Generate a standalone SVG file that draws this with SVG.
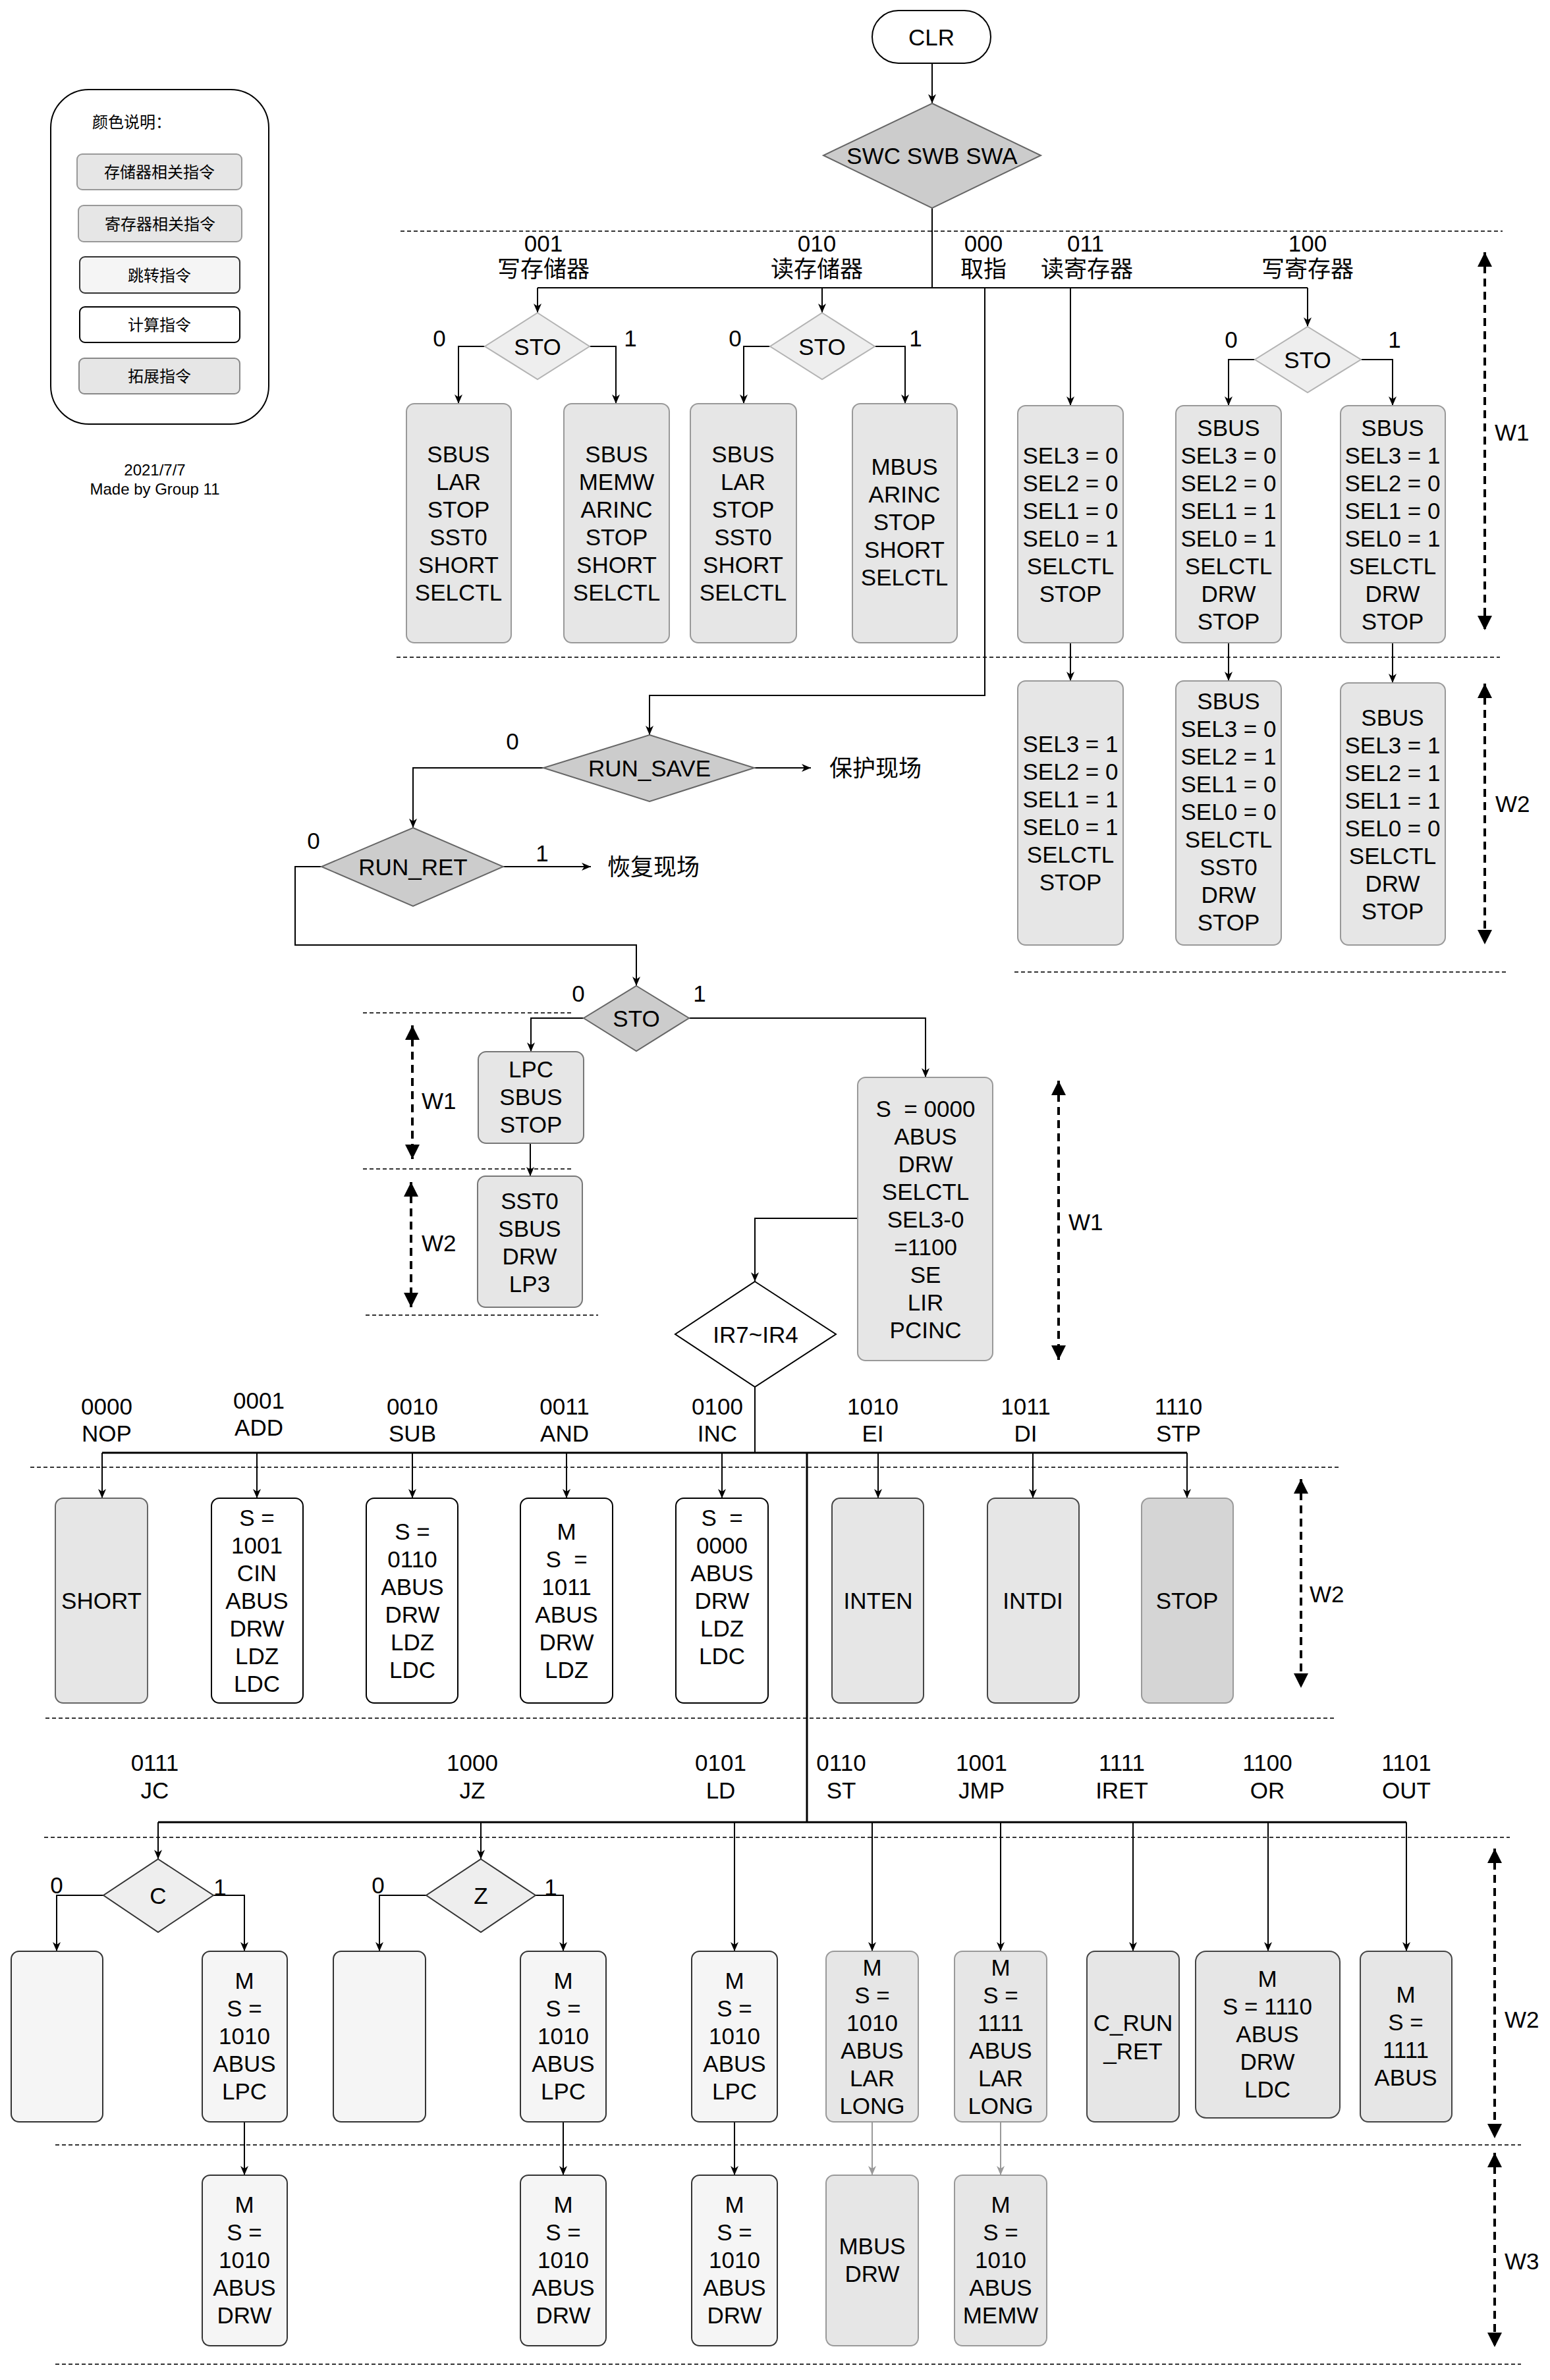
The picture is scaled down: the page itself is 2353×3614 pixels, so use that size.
<svg xmlns="http://www.w3.org/2000/svg" width="2353" height="3614" viewBox="0 0 2353 3614">
<defs>
<style>
text{font-family:"Liberation Sans","Noto Sans CJK SC",sans-serif;fill:#000;}
.t{font-size:35px;text-anchor:middle;dominant-baseline:central;}
.tl{font-size:35px;text-anchor:start;dominant-baseline:central;}
.lg{font-size:24px;text-anchor:middle;dominant-baseline:central;}
.mem{fill:#e6e6e6;stroke:#999;stroke-width:2;}
.reg{fill:#e6e6e6;stroke:#999;stroke-width:2;}
.jmp{fill:#f5f5f5;stroke:#333;stroke-width:2;}
.cmp{fill:#fff;stroke:#000;stroke-width:2;}
.ext{fill:#e6e6e6;stroke:#444;stroke-width:2;}
.stp{fill:#d5d5d5;stroke:#999;stroke-width:2;}
.dk{fill:#cccccc;stroke:#666;stroke-width:2;}
.lt{fill:#eeeeee;stroke:#b3b3b3;stroke-width:2;}
.cz{fill:#eeeeee;stroke:#333;stroke-width:2;}
.c{fill:none;stroke:#000;stroke-width:2;marker-end:url(#a);}
.cg{fill:none;stroke:#999;stroke-width:2;marker-end:url(#ag);}
.ln{fill:none;stroke:#000;stroke-width:2;}
.bus{fill:none;stroke:#000;stroke-width:3;}
.sep{fill:none;stroke:#333;stroke-width:2;stroke-dasharray:6 4;}
.w{fill:none;stroke:#000;stroke-width:4;stroke-dasharray:12 8;marker-start:url(#ws);marker-end:url(#we);}
</style>
<marker id="a" markerUnits="userSpaceOnUse" viewBox="0 0 14 12" refX="14" refY="6" markerWidth="14" markerHeight="12" orient="auto"><path d="M0,0 L14,6 L0,12 L4,6 Z" fill="#000"/></marker>
<marker id="ag" markerUnits="userSpaceOnUse" viewBox="0 0 14 12" refX="14" refY="6" markerWidth="14" markerHeight="12" orient="auto"><path d="M0,0 L14,6 L0,12 L4,6 Z" fill="#999"/></marker>
<marker id="we" markerUnits="userSpaceOnUse" viewBox="0 0 22 22" refX="22" refY="11" markerWidth="22" markerHeight="22" orient="auto"><path d="M0,0 L22,11 L0,22 Z" fill="#000"/></marker>
<marker id="ws" markerUnits="userSpaceOnUse" viewBox="0 0 22 22" refX="0" refY="11" markerWidth="22" markerHeight="22" orient="auto"><path d="M22,0 L0,11 L22,22 Z" fill="#000"/></marker>
</defs>
<rect width="2353" height="3614" fill="#fff"/>

<g id="separators">
<path class="sep" d="M608,351 H2281"/>
<path class="sep" d="M602,998 H2277"/>
<path class="sep" d="M1540,1476 H2290"/>
<path class="sep" d="M551,1538 H868"/>
<path class="sep" d="M551,1775 H868"/>
<path class="sep" d="M555,1997 H908"/>
<path class="sep" d="M46,2228 H2033"/>
<path class="sep" d="M69,2609 H2027"/>
<path class="sep" d="M67,2790 H2292"/>
<path class="sep" d="M84,3257 H2309"/>
<path class="sep" d="M84,3590 H2309"/>
</g>

<g id="legend">
<rect x="77" y="136" width="331" height="508" rx="58" fill="#fff" stroke="#000" stroke-width="2"/>
<text class="lg" x="140" y="185" style="text-anchor:start">颜色说明：</text>
<rect class="mem" x="117" y="234" width="250" height="54" rx="8"/><text class="lg" x="242" y="261">存储器相关指令</text>
<rect class="reg" x="119" y="312" width="248" height="55" rx="8"/><text class="lg" x="243" y="340">寄存器相关指令</text>
<rect class="jmp" x="121" y="390" width="243" height="55" rx="8"/><text class="lg" x="242" y="418">跳转指令</text>
<rect class="cmp" x="121" y="466" width="243" height="54" rx="8"/><text class="lg" x="242" y="493">计算指令</text>
<rect x="120" y="544" width="244" height="54" rx="8" fill="#e6e6e6" stroke="#888" stroke-width="2"/><text class="lg" x="242" y="571">拓展指令</text>
<text class="lg" x="235" y="713">2021/7/7</text>
<text class="lg" x="235" y="742">Made by Group 11</text>
</g>

<g id="connectors">
<path class="c" d="M1415,96 V157"/>
<path class="ln" d="M1415,316 V437"/>
<path class="ln" d="M816,437 H1985"/>
<path class="c" d="M816,437 V475"/>
<path class="c" d="M736,526 H696 V613"/>
<path class="c" d="M895,526 H935 V613"/>
<path class="c" d="M1248,437 V475"/>
<path class="c" d="M1169,526 H1129 V613"/>
<path class="c" d="M1328,526 H1374 V613"/>
<path class="c" d="M1625,437 V616"/>
<path class="c" d="M1985,437 V496"/>
<path class="c" d="M1905,546 H1865 V616"/>
<path class="c" d="M2066,546 H2114 V616"/>
<path class="c" d="M1625,976 V1034"/>
<path class="c" d="M1865,976 V1034"/>
<path class="c" d="M2114,976 V1037"/>
<path class="c" d="M1495,437 V1056 H986 V1116"/>
<path class="c" d="M1145,1166 H1231"/>
<path class="c" d="M825,1166 H627 V1257"/>
<path class="c" d="M764,1316 H897"/>
<path class="c" d="M488,1316 H448 V1435 H966 V1497"/>
<path class="c" d="M886,1546 H806 V1597"/>
<path class="c" d="M1046,1546 H1405 V1636"/>
<path class="c" d="M805,1736 V1786"/>
<path class="c" d="M1302,1850 H1146 V1946"/>
<path class="ln" d="M1146,2106 V2206"/>
<path class="bus" d="M155,2206 H1802"/>
<path class="bus" d="M1225,2206 V2767"/>
<path class="bus" d="M240,2767 H2135"/>
<path class="c" d="M155,2206 V2275"/>
<path class="c" d="M390,2206 V2275"/>
<path class="c" d="M626,2206 V2275"/>
<path class="c" d="M860,2206 V2275"/>
<path class="c" d="M1096,2206 V2275"/>
<path class="c" d="M1333,2206 V2275"/>
<path class="c" d="M1568,2206 V2275"/>
<path class="c" d="M1802,2206 V2275"/>
<path class="c" d="M240,2767 V2823"/>
<path class="c" d="M730,2767 V2823"/>
<path class="c" d="M1115,2767 V2963"/>
<path class="c" d="M1324,2767 V2963"/>
<path class="c" d="M1519,2767 V2963"/>
<path class="c" d="M1720,2767 V2963"/>
<path class="c" d="M1925,2767 V2963"/>
<path class="c" d="M2135,2767 V2963"/>
<path class="c" d="M157,2878 H86 V2963"/>
<path class="c" d="M324,2878 H371 V2963"/>
<path class="c" d="M647,2878 H576 V2963"/>
<path class="c" d="M813,2878 H855 V2963"/>
<path class="c" d="M371,3222 V3303"/>
<path class="c" d="M855,3222 V3303"/>
<path class="c" d="M1115,3222 V3303"/>
<path class="cg" d="M1324,3222 V3303"/>
<path class="cg" d="M1519,3222 V3303"/>
</g>

<g id="cycle-markers">
<path class="w" d="M2254,383 V957"/><text class="tl" x="2269" y="656">W1</text>
<path class="w" d="M2254,1038 V1434"/><text class="tl" x="2270" y="1220">W2</text>
<path class="w" d="M626,1557 V1760"/><text class="tl" x="640" y="1671">W1</text>
<path class="w" d="M624,1795 V1985"/><text class="tl" x="640" y="1887">W2</text>
<path class="w" d="M1607,1641 V2065"/><text class="tl" x="1622" y="1855">W1</text>
<path class="w" d="M1975,2246 V2563"/><text class="tl" x="1988" y="2420">W2</text>
<path class="w" d="M2269,2807 V3247"/><text class="tl" x="2284" y="3066">W2</text>
<path class="w" d="M2269,3269 V3564"/><text class="tl" x="2284" y="3433">W3</text>
</g>

<g id="labels">
<text class="t" x="825" y="369">001</text><text class="t" x="825" y="408">写存储器</text>
<text class="t" x="1240" y="369">010</text><text class="t" x="1240" y="408">读存储器</text>
<text class="t" x="1493" y="369">000</text><text class="t" x="1493" y="408">取指</text>
<text class="t" x="1648" y="369">011</text><text class="t" x="1650" y="408">读寄存器</text>
<text class="t" x="1985" y="369">100</text><text class="t" x="1985" y="408">写寄存器</text>
<text class="t" x="667" y="513">0</text><text class="t" x="957" y="513">1</text>
<text class="t" x="1116" y="513">0</text><text class="t" x="1390" y="513">1</text>
<text class="t" x="1869" y="515">0</text><text class="t" x="2117" y="515">1</text>
<text class="t" x="778" y="1125">0</text>
<text class="tl" x="1259" y="1166">保护现场</text>
<text class="t" x="476" y="1276">0</text><text class="t" x="823" y="1295">1</text>
<text class="tl" x="922" y="1316">恢复现场</text>
<text class="t" x="878" y="1508">0</text><text class="t" x="1062" y="1508">1</text>
<text class="t" x="162" y="2135">0000</text><text class="t" x="162" y="2176">NOP</text>
<text class="t" x="393" y="2126">0001</text><text class="t" x="393" y="2167">ADD</text>
<text class="t" x="626" y="2135">0010</text><text class="t" x="626" y="2176">SUB</text>
<text class="t" x="857" y="2135">0011</text><text class="t" x="857" y="2176">AND</text>
<text class="t" x="1089" y="2135">0100</text><text class="t" x="1089" y="2176">INC</text>
<text class="t" x="1325" y="2135">1010</text><text class="t" x="1325" y="2176">EI</text>
<text class="t" x="1557" y="2135">1011</text><text class="t" x="1557" y="2176">DI</text>
<text class="t" x="1789" y="2135">1110</text><text class="t" x="1789" y="2176">STP</text>
<text class="t" x="235" y="2676">0111</text><text class="t" x="235" y="2718">JC</text>
<text class="t" x="717" y="2676">1000</text><text class="t" x="717" y="2718">JZ</text>
<text class="t" x="1094" y="2676">0101</text><text class="t" x="1094" y="2718">LD</text>
<text class="t" x="1277" y="2676">0110</text><text class="t" x="1277" y="2718">ST</text>
<text class="t" x="1490" y="2676">1001</text><text class="t" x="1490" y="2718">JMP</text>
<text class="t" x="1703" y="2676">1111</text><text class="t" x="1703" y="2718">IRET</text>
<text class="t" x="1924" y="2676">1100</text><text class="t" x="1924" y="2718">OR</text>
<text class="t" x="2135" y="2676">1101</text><text class="t" x="2135" y="2718">OUT</text>
<text class="t" x="86" y="2862">0</text><text class="t" x="334" y="2865">1</text>
<text class="t" x="574" y="2862">0</text><text class="t" x="836" y="2865">1</text>
</g>

<g id="n-clr"><rect x="1324" y="16" width="180" height="80" rx="40" fill="#fff" stroke="#000" stroke-width="2"/><text class="t" x="1414" y="56">CLR</text></g>
<g id="n-sw"><polygon class="dk" points="1415,157 1580,236 1415,316 1250,236"/><text class="t" x="1415" y="236">SWC SWB SWA</text></g>

<g id="n-sto1"><polygon class="lt" points="816,475 895,526 816,576 736,526"/><text class="t" x="816" y="526">STO</text></g>
<g id="n-sto2"><polygon class="lt" points="1248,475 1328,526 1248,576 1169,526"/><text class="t" x="1248" y="526">STO</text></g>
<g id="n-sto3"><polygon class="lt" points="1985,496 2066,546 1985,596 1905,546"/><text class="t" x="1985" y="546">STO</text></g>

<g id="n-b1"><rect class="mem" x="617" y="613" width="159" height="363" rx="12"/><text class="t"><tspan x="696" y="689">SBUS</tspan><tspan x="696" y="731">LAR</tspan><tspan x="696" y="773">STOP</tspan><tspan x="696" y="815">SST0</tspan><tspan x="696" y="857">SHORT</tspan><tspan x="696" y="899">SELCTL</tspan></text></g>
<g id="n-b2"><rect class="mem" x="856" y="613" width="160" height="363" rx="12"/><text class="t"><tspan x="936" y="689">SBUS</tspan><tspan x="936" y="731">MEMW</tspan><tspan x="936" y="773">ARINC</tspan><tspan x="936" y="815">STOP</tspan><tspan x="936" y="857">SHORT</tspan><tspan x="936" y="899">SELCTL</tspan></text></g>
<g id="n-b3"><rect class="mem" x="1048" y="613" width="161" height="363" rx="12"/><text class="t"><tspan x="1128" y="689">SBUS</tspan><tspan x="1128" y="731">LAR</tspan><tspan x="1128" y="773">STOP</tspan><tspan x="1128" y="815">SST0</tspan><tspan x="1128" y="857">SHORT</tspan><tspan x="1128" y="899">SELCTL</tspan></text></g>
<g id="n-b4"><rect class="mem" x="1294" y="613" width="159" height="363" rx="12"/><text class="t"><tspan x="1373" y="708">MBUS</tspan><tspan x="1373" y="750">ARINC</tspan><tspan x="1373" y="792">STOP</tspan><tspan x="1373" y="834">SHORT</tspan><tspan x="1373" y="876">SELCTL</tspan></text></g>
<g id="n-b5"><rect class="reg" x="1545" y="616" width="160" height="360" rx="12"/><text class="t"><tspan x="1625" y="691">SEL3 = 0</tspan><tspan x="1625" y="733">SEL2 = 0</tspan><tspan x="1625" y="775">SEL1 = 0</tspan><tspan x="1625" y="817">SEL0 = 1</tspan><tspan x="1625" y="859">SELCTL</tspan><tspan x="1625" y="901">STOP</tspan></text></g>
<g id="n-b6"><rect class="reg" x="1785" y="616" width="160" height="360" rx="12"/><text class="t"><tspan x="1865" y="649">SBUS</tspan><tspan x="1865" y="691">SEL3 = 0</tspan><tspan x="1865" y="733">SEL2 = 0</tspan><tspan x="1865" y="775">SEL1 = 1</tspan><tspan x="1865" y="817">SEL0 = 1</tspan><tspan x="1865" y="859">SELCTL</tspan><tspan x="1865" y="901">DRW</tspan><tspan x="1865" y="943">STOP</tspan></text></g>
<g id="n-b7"><rect class="reg" x="2035" y="616" width="159" height="360" rx="12"/><text class="t"><tspan x="2114" y="649">SBUS</tspan><tspan x="2114" y="691">SEL3 = 1</tspan><tspan x="2114" y="733">SEL2 = 0</tspan><tspan x="2114" y="775">SEL1 = 0</tspan><tspan x="2114" y="817">SEL0 = 1</tspan><tspan x="2114" y="859">SELCTL</tspan><tspan x="2114" y="901">DRW</tspan><tspan x="2114" y="943">STOP</tspan></text></g>
<g id="n-b5b"><rect class="reg" x="1545" y="1034" width="160" height="401" rx="12"/><text class="t"><tspan x="1625" y="1129">SEL3 = 1</tspan><tspan x="1625" y="1171">SEL2 = 0</tspan><tspan x="1625" y="1213">SEL1 = 1</tspan><tspan x="1625" y="1255">SEL0 = 1</tspan><tspan x="1625" y="1297">SELCTL</tspan><tspan x="1625" y="1339">STOP</tspan></text></g>
<g id="n-b6b"><rect class="reg" x="1785" y="1034" width="160" height="401" rx="12"/><text class="t"><tspan x="1865" y="1064">SBUS</tspan><tspan x="1865" y="1106">SEL3 = 0</tspan><tspan x="1865" y="1148">SEL2 = 1</tspan><tspan x="1865" y="1190">SEL1 = 0</tspan><tspan x="1865" y="1232">SEL0 = 0</tspan><tspan x="1865" y="1274">SELCTL</tspan><tspan x="1865" y="1316">SST0</tspan><tspan x="1865" y="1358">DRW</tspan><tspan x="1865" y="1400">STOP</tspan></text></g>
<g id="n-b7b"><rect class="reg" x="2035" y="1037" width="159" height="398" rx="12"/><text class="t"><tspan x="2114" y="1089">SBUS</tspan><tspan x="2114" y="1131">SEL3 = 1</tspan><tspan x="2114" y="1173">SEL2 = 1</tspan><tspan x="2114" y="1215">SEL1 = 1</tspan><tspan x="2114" y="1257">SEL0 = 0</tspan><tspan x="2114" y="1299">SELCTL</tspan><tspan x="2114" y="1341">DRW</tspan><tspan x="2114" y="1383">STOP</tspan></text></g>

<g id="n-runsave"><polygon class="dk" points="986,1116 1145,1166 986,1217 825,1166"/><text class="t" x="986" y="1166">RUN_SAVE</text></g>
<g id="n-runret"><polygon class="dk" points="627,1257 764,1316 627,1376 488,1316"/><text class="t" x="627" y="1316">RUN_RET</text></g>
<g id="n-sto4"><polygon class="dk" points="966,1497 1046,1546 966,1596 886,1546"/><text class="t" x="966" y="1546">STO</text></g>
<g id="n-lpc"><rect class="reg" x="726" y="1597" width="160" height="139" rx="12" style="stroke:#777"/><text class="t"><tspan x="806" y="1623">LPC</tspan><tspan x="806" y="1665">SBUS</tspan><tspan x="806" y="1707">STOP</tspan></text></g>
<g id="n-sst0"><rect class="reg" x="725" y="1786" width="159" height="199" rx="12" style="stroke:#777"/><text class="t"><tspan x="804" y="1823">SST0</tspan><tspan x="804" y="1865">SBUS</tspan><tspan x="804" y="1907">DRW</tspan><tspan x="804" y="1949">LP3</tspan></text></g>
<g id="n-fetch"><rect class="mem" x="1302" y="1636" width="205" height="430" rx="12"/><text class="t" xml:space="preserve"><tspan x="1405" y="1683">S  = 0000</tspan><tspan x="1405" y="1725">ABUS</tspan><tspan x="1405" y="1767">DRW</tspan><tspan x="1405" y="1809">SELCTL</tspan><tspan x="1405" y="1851">SEL3-0</tspan><tspan x="1405" y="1893">=1100</tspan><tspan x="1405" y="1935">SE</tspan><tspan x="1405" y="1977">LIR</tspan><tspan x="1405" y="2019">PCINC</tspan></text></g>
<g id="n-ir"><polygon points="1146,1946 1269,2026 1146,2106 1025,2026" fill="#fff" stroke="#000" stroke-width="2"/><text class="t" x="1147" y="2026">IR7~IR4</text></g>

<g id="n-nop"><rect x="84" y="2275" width="140" height="311" rx="12" fill="#e6e6e6" stroke="#666" stroke-width="2"/><text class="t" x="154" y="2430">SHORT</text></g>
<g id="n-add"><rect class="cmp" x="321" y="2275" width="139" height="311" rx="12"/><text class="t"><tspan x="390" y="2304">S =</tspan><tspan x="390" y="2346">1001</tspan><tspan x="390" y="2388">CIN</tspan><tspan x="390" y="2430">ABUS</tspan><tspan x="390" y="2472">DRW</tspan><tspan x="390" y="2514">LDZ</tspan><tspan x="390" y="2556">LDC</tspan></text></g>
<g id="n-sub"><rect class="cmp" x="556" y="2275" width="139" height="311" rx="12"/><text class="t"><tspan x="626" y="2325">S =</tspan><tspan x="626" y="2367">0110</tspan><tspan x="626" y="2409">ABUS</tspan><tspan x="626" y="2451">DRW</tspan><tspan x="626" y="2493">LDZ</tspan><tspan x="626" y="2535">LDC</tspan></text></g>
<g id="n-and"><rect class="cmp" x="790" y="2275" width="140" height="311" rx="12"/><text class="t" xml:space="preserve"><tspan x="860" y="2325">M</tspan><tspan x="860" y="2367">S  =</tspan><tspan x="860" y="2409">1011</tspan><tspan x="860" y="2451">ABUS</tspan><tspan x="860" y="2493">DRW</tspan><tspan x="860" y="2535">LDZ</tspan></text></g>
<g id="n-inc"><rect class="cmp" x="1026" y="2275" width="140" height="311" rx="12"/><text class="t" xml:space="preserve"><tspan x="1096" y="2304">S  =</tspan><tspan x="1096" y="2346">0000</tspan><tspan x="1096" y="2388">ABUS</tspan><tspan x="1096" y="2430">DRW</tspan><tspan x="1096" y="2472">LDZ</tspan><tspan x="1096" y="2514">LDC</tspan></text></g>
<g id="n-inten"><rect class="ext" x="1263" y="2275" width="139" height="311" rx="12"/><text class="t" x="1333" y="2430">INTEN</text></g>
<g id="n-intdi"><rect class="ext" x="1499" y="2275" width="139" height="311" rx="12"/><text class="t" x="1568" y="2430">INTDI</text></g>
<g id="n-stop"><rect class="stp" x="1733" y="2275" width="139" height="311" rx="12"/><text class="t" x="1802" y="2430">STOP</text></g>

<g id="n-c"><polygon class="cz" points="240,2823 324,2878 240,2934 157,2878"/><text class="t" x="240" y="2878">C</text></g>
<g id="n-z"><polygon class="cz" points="730,2823 813,2878 730,2934 647,2878"/><text class="t" x="730" y="2878">Z</text></g>
<g id="n-jc0"><rect class="jmp" x="17" y="2963" width="139" height="259" rx="12"/></g>
<g id="n-jc1"><rect class="jmp" x="307" y="2963" width="129" height="259" rx="12"/><text class="t"><tspan x="371" y="3007">M</tspan><tspan x="371" y="3049">S =</tspan><tspan x="371" y="3091">1010</tspan><tspan x="371" y="3133">ABUS</tspan><tspan x="371" y="3175">LPC</tspan></text></g>
<g id="n-jz0"><rect class="jmp" x="506" y="2963" width="140" height="259" rx="12"/></g>
<g id="n-jz1"><rect class="jmp" x="790" y="2963" width="130" height="259" rx="12"/><text class="t"><tspan x="855" y="3007">M</tspan><tspan x="855" y="3049">S =</tspan><tspan x="855" y="3091">1010</tspan><tspan x="855" y="3133">ABUS</tspan><tspan x="855" y="3175">LPC</tspan></text></g>
<g id="n-ld"><rect class="jmp" x="1050" y="2963" width="130" height="259" rx="12"/><text class="t"><tspan x="1115" y="3007">M</tspan><tspan x="1115" y="3049">S =</tspan><tspan x="1115" y="3091">1010</tspan><tspan x="1115" y="3133">ABUS</tspan><tspan x="1115" y="3175">LPC</tspan></text></g>
<g id="n-st"><rect class="mem" x="1254" y="2963" width="140" height="259" rx="12"/><text class="t"><tspan x="1324" y="2987">M</tspan><tspan x="1324" y="3029">S =</tspan><tspan x="1324" y="3071">1010</tspan><tspan x="1324" y="3113">ABUS</tspan><tspan x="1324" y="3155">LAR</tspan><tspan x="1324" y="3197">LONG</tspan></text></g>
<g id="n-jmp"><rect class="mem" x="1449" y="2963" width="140" height="259" rx="12"/><text class="t"><tspan x="1519" y="2987">M</tspan><tspan x="1519" y="3029">S =</tspan><tspan x="1519" y="3071">1111</tspan><tspan x="1519" y="3113">ABUS</tspan><tspan x="1519" y="3155">LAR</tspan><tspan x="1519" y="3197">LONG</tspan></text></g>
<g id="n-iret"><rect class="ext" x="1650" y="2963" width="140" height="259" rx="12"/><text class="t"><tspan x="1720" y="3071">C_RUN</tspan><tspan x="1720" y="3114">_RET</tspan></text></g>
<g id="n-or"><rect class="ext" x="1815" y="2963" width="219" height="253" rx="16"/><text class="t"><tspan x="1924" y="3004">M</tspan><tspan x="1924" y="3046">S = 1110</tspan><tspan x="1924" y="3088">ABUS</tspan><tspan x="1924" y="3130">DRW</tspan><tspan x="1924" y="3172">LDC</tspan></text></g>
<g id="n-out"><rect class="ext" x="2065" y="2963" width="139" height="259" rx="12"/><text class="t"><tspan x="2134" y="3028">M</tspan><tspan x="2134" y="3070">S =</tspan><tspan x="2134" y="3112">1111</tspan><tspan x="2134" y="3154">ABUS</tspan></text></g>

<g id="n-jc2"><rect class="jmp" x="307" y="3303" width="129" height="259" rx="12"/><text class="t"><tspan x="371" y="3347">M</tspan><tspan x="371" y="3389">S =</tspan><tspan x="371" y="3431">1010</tspan><tspan x="371" y="3473">ABUS</tspan><tspan x="371" y="3515">DRW</tspan></text></g>
<g id="n-jz2"><rect class="jmp" x="790" y="3303" width="130" height="259" rx="12"/><text class="t"><tspan x="855" y="3347">M</tspan><tspan x="855" y="3389">S =</tspan><tspan x="855" y="3431">1010</tspan><tspan x="855" y="3473">ABUS</tspan><tspan x="855" y="3515">DRW</tspan></text></g>
<g id="n-ld2"><rect class="jmp" x="1050" y="3303" width="130" height="259" rx="12"/><text class="t"><tspan x="1115" y="3347">M</tspan><tspan x="1115" y="3389">S =</tspan><tspan x="1115" y="3431">1010</tspan><tspan x="1115" y="3473">ABUS</tspan><tspan x="1115" y="3515">DRW</tspan></text></g>
<g id="n-st2"><rect class="mem" x="1254" y="3303" width="140" height="259" rx="12"/><text class="t"><tspan x="1324" y="3410">MBUS</tspan><tspan x="1324" y="3452">DRW</tspan></text></g>
<g id="n-jmp2"><rect class="mem" x="1449" y="3303" width="140" height="259" rx="12"/><text class="t"><tspan x="1519" y="3347">M</tspan><tspan x="1519" y="3389">S =</tspan><tspan x="1519" y="3431">1010</tspan><tspan x="1519" y="3473">ABUS</tspan><tspan x="1519" y="3515">MEMW</tspan></text></g>
</svg>
